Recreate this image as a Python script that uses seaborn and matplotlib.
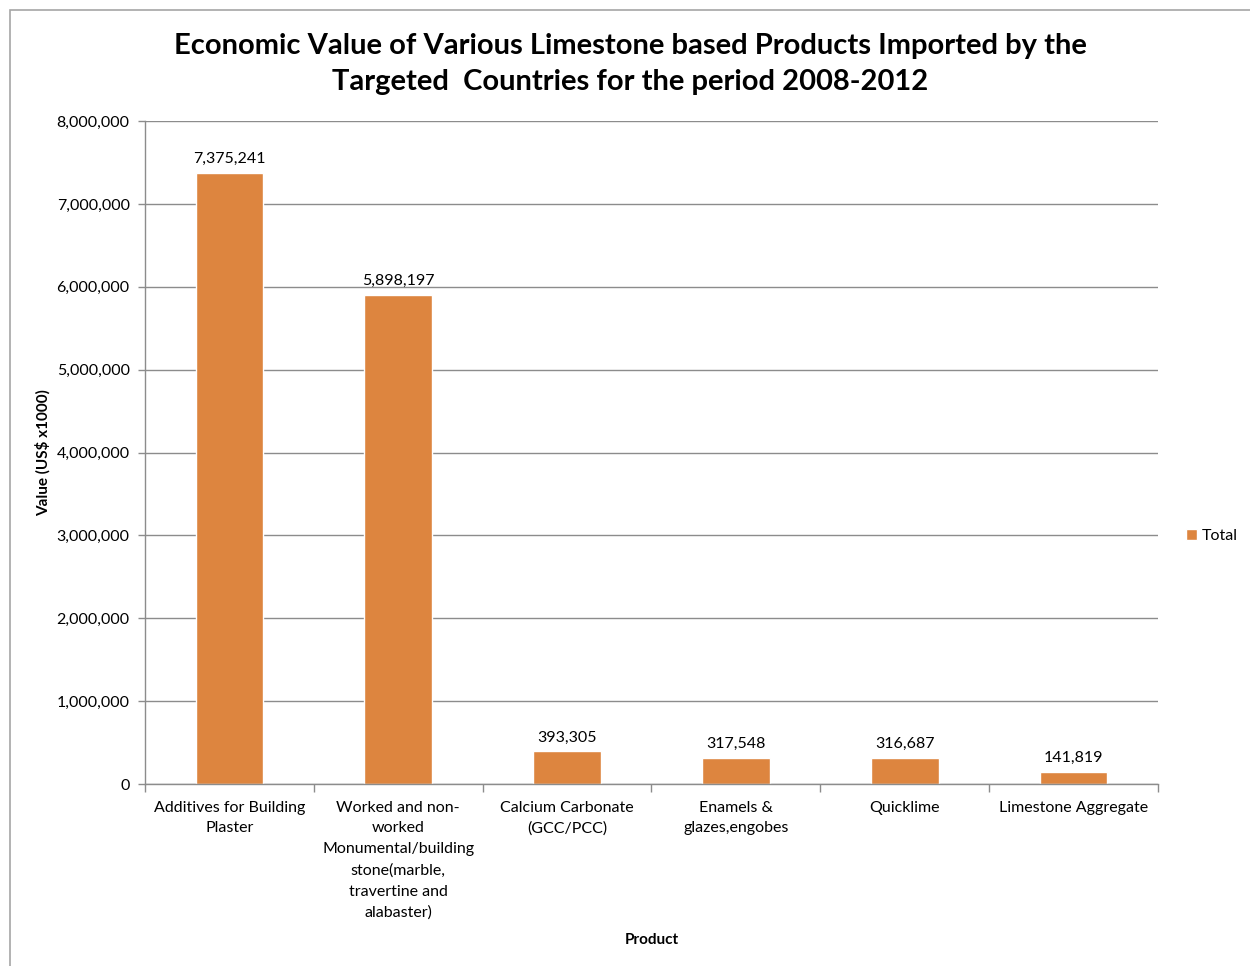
import matplotlib
matplotlib.use("Agg")
import matplotlib.pyplot as plt
import seaborn as sns
import pandas as pd
from matplotlib.patches import Rectangle
from matplotlib.ticker import FuncFormatter, MultipleLocator

products = [
    "Additives for Building\nPlaster",
    "Worked and non-\nworked\nMonumental/building\nstone(marble,\ntravertine and\nalabaster)",
    "Calcium Carbonate\n(GCC/PCC)",
    "Enamels &\nglazes,engobes",
    "Quicklime",
    "Limestone Aggregate",
]
totals = [7375241, 5898197, 393305, 317548, 316687, 141819]
series_name = "Total"

df = pd.DataFrame({"Product": products, "Value": totals, "Series": series_name})

sns.set_theme(style="white")
plt.rcParams["font.family"] = ["Lato", "DejaVu Sans"]
plt.rcParams["text.color"] = "black"
plt.rcParams["axes.labelcolor"] = "black"

bar_color = "#DD853F"
grid_color = "#8C8C8C"

fig = plt.figure(figsize=(12.5, 9.66), dpi=100)
ax = fig.add_axes([0.116, 0.1884, 0.8104, 0.6863])

sns.barplot(data=df, x="Product", y="Value", hue="Series", palette=[bar_color],
            width=0.4, ax=ax, saturation=1, legend=True)

ax.set_ylim(0, 8000000)
ax.set_xlim(-0.5, len(products) - 0.5)
ax.yaxis.set_major_locator(MultipleLocator(1000000))
ax.yaxis.set_major_formatter(FuncFormatter(lambda v, p: f"{int(v):,}"))
ax.yaxis.grid(True, color=grid_color, linewidth=1)
ax.set_axisbelow(True)

for s in ["top", "right"]:
    ax.spines[s].set_visible(False)
for s in ["left", "bottom"]:
    ax.spines[s].set_color(grid_color)
    ax.spines[s].set_linewidth(1)

ax.tick_params(axis="y", which="major", length=5, color=grid_color, width=1,
               left=True, labelsize=11.5, pad=6, labelcolor="black")
ax.tick_params(axis="x", which="major", length=0, labelsize=11.5, pad=12,
               labelcolor="black")
ax.set_xticks(range(len(products)))
ax.set_xticklabels(products, linespacing=1.62)
ax.set_xticks([i - 0.5 for i in range(len(products) + 1)], minor=True)
ax.tick_params(axis="x", which="minor", length=6, color=grid_color, width=1,
               bottom=True)

for i, v in enumerate(totals):
    ax.annotate(f"{v:,}", (i, v), xytext=(0, 5), textcoords="offset points",
                ha="center", va="bottom", fontsize=11.5, color="black")

ax.set_xlabel("Product", fontsize=11, fontweight="bold")
ax.set_ylabel("Value (US$ x1000)", fontsize=11, fontweight="bold")
ax.xaxis.set_label_coords(0.5, -0.225)
ax.yaxis.set_label_coords(-0.093, 0.5)

leg = ax.legend(loc="center left", frameon=False,
                fontsize=11.5, handlelength=0.7, handleheight=0.7,
                handletextpad=0.3)
leg.set_bbox_to_anchor((0.937, 1 - 536 / 966), transform=fig.transFigure)

fig.text(0.504, 0.966,
         "Economic Value of Various Limestone based Products Imported by the\n"
         "Targeted  Countries for the period 2008-2012",
         ha="center", va="top", fontsize=21, fontweight="bold",
         linespacing=1.5, color="black")

fig.patches.append(Rectangle((10 / 1250, -0.1), 1.2, 1.1 - 10 / 966,
                             transform=fig.transFigure, fill=False,
                             edgecolor="#A6A6A6", linewidth=1.2))

fig.savefig("out.png", dpi=100)
